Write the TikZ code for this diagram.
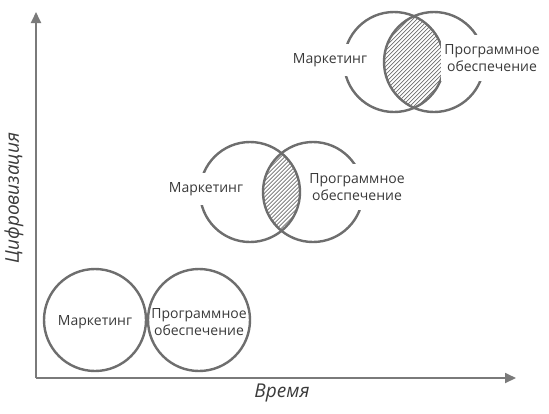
\documentclass[tikz,border=0pt]{standalone}
\usepackage{fontspec}
\setmainfont{Open Sans}
\usetikzlibrary{arrows.meta,calc}
\definecolor{linegray}{HTML}{6E6E6E}
\definecolor{axisgray}{HTML}{7A7A7A}
\definecolor{txtgray}{HTML}{3A3A3A}
\begin{document}
\begin{tikzpicture}[x=1bp,y=-1bp,
  ring/.style={draw=linegray,line width=2.4bp},
  axis/.style={draw=axisgray,line width=1.8bp,-{Triangle[length=11bp,width=10bp]}},
  hatch/.style={draw=linegray,line width=0.7bp},
  lbl/.style={text=txtgray,font=\fontsize{14bp}{17bp}\selectfont,align=center,inner sep=0pt},
  lblw/.style={lbl,fill=white,inner xsep=3bp,inner ysep=9bp},
  axlbl/.style={text=txtgray,font=\fontsize{19bp}{22bp}\selectfont\itshape,inner sep=0pt}]
\useasboundingbox[fill=white] (0,0) rectangle (549,413);
% axes
\coordinate (O) at (36,378);
\coordinate (Ytip) at (36,12);
\coordinate (Xtip) at (516,378);
\draw[axis] (O) -- (Ytip);
\draw[axis] (O) -- (Xtip);
\node[axlbl,rotate=90] (ylab) at (14,198) {Цифровизация};
\node[axlbl] (xlab) at (282,393) {Время};
% bottom pair
\coordinate (b1) at (95,320);
\coordinate (b2) at (199,320);
\draw[ring] (b1) circle[radius=51bp];
\draw[ring] (b2) circle[radius=51bp];
\node[lbl] (bm) at (95,322) {Маркетинг};
\node[lbl] (bp) at (199,322) {Программное\\обеспечение};
% middle pair
\coordinate (m1) at (250,192);
\coordinate (m2) at (313,192);
\begin{scope}
\clip (m1) circle[radius=50bp];
\clip (m2) circle[radius=50bp];
\foreach \i in {-120,-116,...,120} {
  \draw[hatch] ($(281.5,192)+(\i-70,70)$) -- ($(281.5,192)+(\i+70,-70)$);
}
\end{scope}
\draw[ring] (m1) circle[radius=50bp];
\draw[ring] (m2) circle[radius=50bp];
\node[lblw] (mm) at (206,189) {Маркетинг};
\node[lblw] (mp) at (357,187) {Программное\\обеспечение};
% top pair
\coordinate (t1) at (394,62);
\coordinate (t2) at (434,62);
\begin{scope}
\clip (t1) circle[radius=50bp];
\clip (t2) circle[radius=50bp];
\foreach \i in {-120,-116,...,120} {
  \draw[hatch] ($(414,62)+(\i-70,70)$) -- ($(414,62)+(\i+70,-70)$);
}
\end{scope}
\draw[ring] (t1) circle[radius=50bp];
\draw[ring] (t2) circle[radius=50bp];
\node[lblw] (tm) at (330,60) {Маркетинг};
\node[lblw] (tp) at (492,58) {Программное\\обеспечение};
\end{tikzpicture}
\end{document}
